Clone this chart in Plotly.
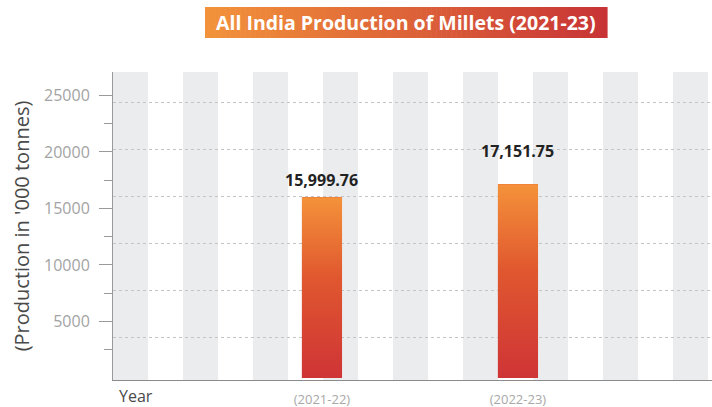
import plotly.graph_objects as go

# ---- data ----
years = ["(2021-22)", "(2022-23)"]
production = [15999.76, 17151.75]
value_labels = ["15,999.76", "17,151.75"]
y_tick_vals = [5000, 10000, 15000, 20000, 25000]
y_tick_text = ["5000", "10000", "15000", "20000", "25000"]

# ---- layout constants (pixels) ----
W, H = 712, 407
L, R, T, B = 113, 0, 72, 27
plot_w = W - L - R
plot_h = H - T - B

def px_x(p):
    return (p - L) / plot_w

def px_y(p):
    return (H - B - p) / plot_h

x_pos = list(range(len(years)))
x_range = [-1.066, 1.99]
y_range = [-175, 27074]
bar_w = 0.205

fig = go.Figure()

# base bars
fig.add_trace(go.Bar(
    x=x_pos, y=production, width=bar_w,
    marker=dict(color="#E2573A", line=dict(width=0)),
    hoverinfo="skip", showlegend=False,
))

# gradient overlay for each bar, derived from data
for xi, v in zip(x_pos, production):
    xs = [xi - bar_w / 2, xi + bar_w / 2, xi + bar_w / 2, xi - bar_w / 2, xi - bar_w / 2]
    ys = [0, 0, v, v, 0]
    fig.add_trace(go.Scatter(
        x=xs, y=ys, mode="lines", fill="toself",
        line=dict(width=0, color="rgba(0,0,0,0)"),
        fillgradient=dict(type="vertical",
                          colorscale=[[0, "#CF3436"], [0.55, "#E0572F"], [1, "#F4923A"]]),
        hoverinfo="skip", showlegend=False,
    ))

# invisible trace on overlay axis for the offset dashed grid
fig.add_trace(go.Scatter(x=[None], y=[None], yaxis="y2", showlegend=False, hoverinfo="skip"))

shapes = []
# vertical background stripes
unit_px = plot_w / (x_range[1] - x_range[0])
for k in range(9):
    x0 = x_range[0] + (k * 70) / unit_px
    x1 = x0 + 35 / unit_px
    shapes.append(dict(type="rect", xref="x", yref="paper", x0=x0, x1=x1, y0=0, y1=1,
                       fillcolor="#EBECEE", line=dict(width=0), layer="below"))

# title banner gradient
bx0, bx1, by0, by1 = 205, 607, 7, 38
n = 80
c0 = (242, 146, 58)
c1 = (200, 52, 54)
for i in range(n):
    t = i / (n - 1)
    c = tuple(int(round(c0[j] + (c1[j] - c0[j]) * t)) for j in range(3))
    xa = bx0 + (bx1 - bx0) * i / n
    xb = bx0 + (bx1 - bx0) * (i + 1) / n + 0.6
    shapes.append(dict(type="rect", xref="paper", yref="paper",
                       x0=px_x(xa), x1=px_x(xb), y0=px_y(by1), y1=px_y(by0),
                       fillcolor="rgb(%d,%d,%d)" % c, line=dict(width=0), layer="above"))

annotations = [
    dict(text="<b>All India Production of Millets (2021-23)</b>", xref="paper", yref="paper",
         x=px_x((bx0 + bx1) / 2), y=px_y((by0 + by1) / 2), showarrow=False,
         font=dict(family="Open Sans", size=19.5, color="white"), xanchor="center", yanchor="middle"),
    dict(text="Year", xref="paper", yref="paper", x=px_x(117), y=px_y(396),
         xanchor="left", yanchor="middle", showarrow=False,
         font=dict(family="Open Sans", size=16, color="#4a4a4a")),
]
label_shift = [4, 20]
for xi, v, lab, s in zip(x_pos, production, value_labels, label_shift):
    annotations.append(dict(text="<b>%s</b>" % lab, x=xi, y=v, xref="x", yref="y",
                            showarrow=False, yanchor="bottom", yshift=s,
                            font=dict(family="Open Sans", size=16, color="#222222")))

fig.update_layout(
    width=W, height=H,
    margin=dict(l=L, r=R, t=T, b=B, pad=0),
    paper_bgcolor="white", plot_bgcolor="white",
    showlegend=False, bargap=0,
    font=dict(family="Open Sans", color="#999999"),
    xaxis=dict(range=x_range, tickvals=x_pos, ticktext=years, showgrid=False,
               zeroline=False, showline=True, linecolor="#8a8a8a", linewidth=1,
               ticks="", tickfont=dict(size=13, color="#a8a8a8"), ticklabelstandoff=7,
               fixedrange=True),
    yaxis=dict(range=y_range, tickvals=y_tick_vals, ticktext=y_tick_text,
               showgrid=False, zeroline=False, showline=True, linecolor="#9a9a9a",
               linewidth=1, ticks="outside", ticklen=13, tickcolor="#9a9a9a",
               tickfont=dict(size=16, color="#a3a3a3"), ticklabelstandoff=6,
               minor=dict(tickvals=[2500, 7500, 12500, 17500, 22500], ticks="outside",
                          ticklen=8, tickcolor="#9a9a9a"),
               title=dict(text="(Production in '000 tonnes)",
                          font=dict(family="Open Sans", size=20, color="#4a4a4a"),
                          standoff=9)),
    yaxis2=dict(range=y_range, overlaying="y", tick0=3580, dtick=4160, showgrid=True,
                gridcolor="#c4c4c4", griddash="dot", gridwidth=1, showticklabels=False,
                zeroline=False, showline=False, ticks=""),
    shapes=shapes,
    annotations=annotations,
)

fig.write_html("out.html", config={"displayModeBar": False},
               post_script="document.body.style.margin='0';document.body.style.overflow='hidden';")
